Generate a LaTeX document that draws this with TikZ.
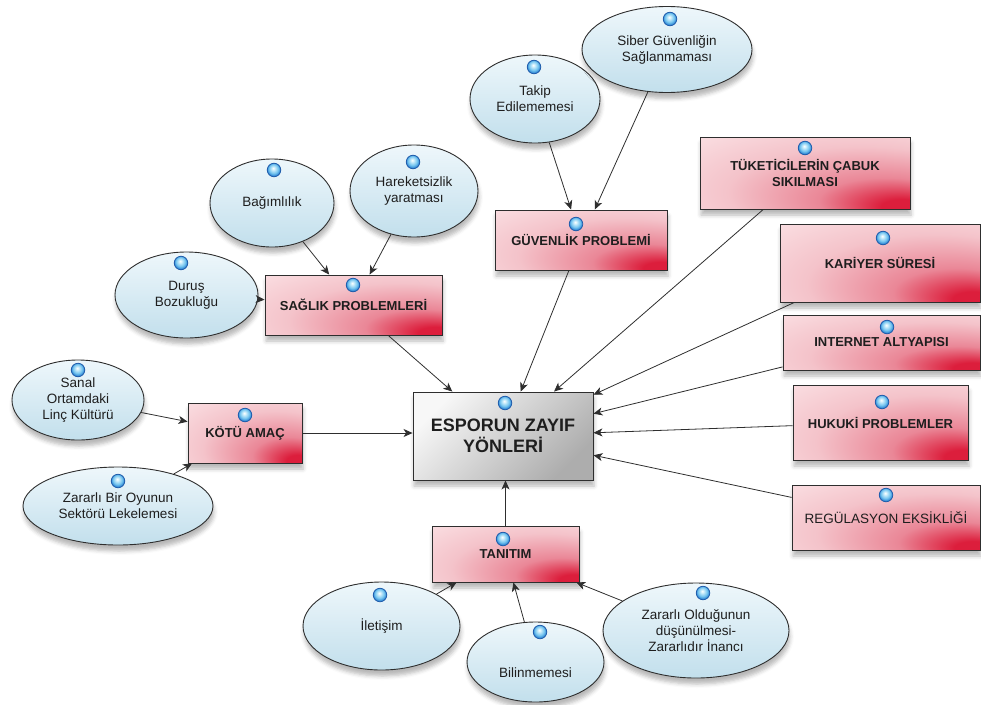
\documentclass[tikz,border=0pt]{standalone}
\usepackage{fontspec}
\setmainfont{Liberation Sans}
\usetikzlibrary{shapes.geometric,arrows.meta,shadows.blur}
\definecolor{rb0}{HTML}{FDEBED}
\definecolor{rb1}{HTML}{F4C3CA}
\definecolor{rb2}{HTML}{EA8797}
\definecolor{rb3}{HTML}{DC1E3C}
\definecolor{elltop}{HTML}{EEF7FB}
\definecolor{ellbot}{HTML}{C2DFEC}
\definecolor{gr0}{HTML}{F7F7F7}
\definecolor{gr1}{HTML}{ADADAD}
\definecolor{edge}{HTML}{2E2E2E}
\definecolor{txt}{HTML}{1E1E1E}
\definecolor{dl1}{HTML}{D4F1FC}
\definecolor{dl2}{HTML}{74C4EF}
\definecolor{dl3}{HTML}{2F86D4}
\definecolor{dline}{HTML}{1F5CAB}
\pgfdeclareradialshading{redcorner}{\pgfpoint{25bp}{-25bp}}{color(0bp)=(rb3); color(5bp)=(rb3); color(16bp)=(rb2); color(32bp)=(rb1); color(55bp)=(rb0); color(70bp)=(rb0)}
\pgfdeclareverticalshading{greybox}{100bp}{color(0bp)=(gr1); color(25bp)=(gr1); color(75bp)=(gr0); color(100bp)=(gr0)}
\pgfdeclareradialshading{dotball}{\pgfpoint{-3bp}{7bp}}{color(0bp)=(white); color(5bp)=(dl1); color(17bp)=(dl2); color(25bp)=(dl3); color(50bp)=(dl3)}
\begin{document}
\begin{tikzpicture}[x=1pt,y=-1pt,
  shad/.style={blur shadow={shadow xshift=1pt,shadow yshift=-6pt,shadow blur radius=4pt,shadow opacity=28}},
  ell/.style={ellipse, draw=edge, line width=0.9pt, top color=elltop, bottom color=ellbot,
    inner sep=0pt, align=center, text=txt, font=\fontsize{13.5}{16}\selectfont, shad},
  rbox/.style={rectangle, draw=edge, line width=0.9pt, shading=redcorner,
    inner sep=0pt, align=center, text=txt, font=\bfseries\fontsize{13}{15.5}\selectfont, shad},
  cbox/.style={rectangle, draw=edge, line width=0.9pt, shading=greybox, shading angle=45,
    inner sep=0pt, align=center, text=txt, font=\bfseries\fontsize{18}{21}\selectfont, shad},
  bdot/.style={circle, draw=dline, line width=0.8pt, shading=dotball, minimum size=13.5pt, inner sep=0pt},
  arr/.style={draw=edge, line width=0.8pt, -{Stealth[length=9pt,width=8pt,inset=2.5pt]}}
]
\useasboundingbox (0,0) rectangle (981,704);

% central node
\node[cbox, minimum width=180pt, minimum height=88pt] (cen) at (503,436) {ESPORUN ZAYIF\\YÖNLERİ};

% red boxes
\node[rbox, minimum width=114pt, minimum height=60pt] (kot) at (245,433) {KÖTÜ AMAÇ};
\node[rbox, minimum width=177pt, minimum height=60pt] (sag) at (353.5,305) {SAĞLIK PROBLEMLERİ};
\node[rbox, minimum width=172pt, minimum height=60pt] (guv) at (581,240) {GÜVENLİK PROBLEMİ};
\node[rbox, minimum width=210pt, minimum height=72pt] (tuk) at (805,173) {TÜKETİCİLERİN ÇABUK\\SIKILMASI};
\node[rbox, minimum width=200pt, minimum height=78pt] (kar) at (880,263) {KARİYER SÜRESİ};
\node[rbox, minimum width=197pt, minimum height=55pt] (int) at (881.5,342.5) {INTERNET ALTYAPISI};
\node[rbox, minimum width=175pt, minimum height=75pt] (huk) at (880.5,422.5) {HUKUKİ PROBLEMLER};
\node[rbox, minimum width=188pt, minimum height=65pt, font=\fontsize{13.5}{16}\selectfont] (reg) at (886,517.5) {REGÜLASYON EKSİKLİĞİ};
\node[rbox, minimum width=147pt, minimum height=56pt] (tan) at (505.5,554) {TANITIM};

% ellipses
\node[ell, minimum width=132pt, minimum height=80pt] (san) at (78,400) {Sanal\\Ortamdaki\\Linç Kültürü};
\node[ell, minimum width=190pt, minimum height=78pt] (zarb) at (118,506) {Zararlı Bir Oyunun\\Sektörü Lekelemesi};
\node[ell, minimum width=143pt, minimum height=86pt] (dur) at (186.5,295) {Duruş\\Bozukluğu};
\node[ell, minimum width=124pt, minimum height=88pt] (bag) at (272,203) {Bağımlılık};
\node[ell, minimum width=128pt, minimum height=92pt] (har) at (414,191) {Hareketsizlik\\yaratması};
\node[ell, minimum width=130pt, minimum height=88pt] (tak) at (535,99) {Takip\\Edilememesi};
\node[ell, minimum width=170pt, minimum height=86pt] (sib) at (667,49.5) {Siber Güvenliğin\\Sağlanmaması};
\node[ell, minimum width=157pt, minimum height=88pt] (ile) at (381.5,626) {İletişim};
\node[ell, minimum width=137pt, minimum height=80pt] (bil) at (535.5,662) {};
\node[text=txt, font=\fontsize{13.5}{16}\selectfont] (bilt) at (535.5,673) {Bilinmemesi};
\node[ell, minimum width=186pt, minimum height=95pt] (zaro) at (696,630.5) {Zararlı Olduğunun\\düşünülmesi-\\Zararlıdır İnancı};

% connectors
\draw[arr] (san) -- (kot);
\draw[arr] (zarb) -- (kot);
\draw[arr] (kot) -- (kot -| cen.west);
\draw[arr] (dur) -- (sag);
\draw[arr] (bag) -- (sag);
\draw[arr] (har) -- (sag);
\draw[arr] (sag) -- (cen);
\draw[arr] (tak) -- (guv);
\draw[arr] (sib) -- (guv);
\draw[arr] (guv) -- (cen);
\draw[arr] (tuk) -- (cen);
\draw[arr] (kar) -- (cen);
\draw[arr] (int) -- (cen);
\draw[arr] (huk) -- (cen);
\draw[arr] (reg) -- (cen);
\draw[arr] (tan) -- (tan.north |- cen.south);
\draw[arr] (ile) -- (tan);
\draw[arr] (bil) -- (tan);
\draw[arr] (zaro) -- (tan);

% blue dots
\node[bdot] (d1) at (505,403) {};
\node[bdot] (d2) at (245,415) {};
\node[bdot] (d3) at (353,285) {};
\node[bdot] (d4) at (576,224) {};
\node[bdot] (d5) at (805,148) {};
\node[bdot] (d6) at (883,238) {};
\node[bdot] (d7) at (887,327) {};
\node[bdot] (d8) at (882,402) {};
\node[bdot] (d9) at (886,495) {};
\node[bdot] (d10) at (503,539) {};
\node[bdot] (d11) at (78,370) {};
\node[bdot] (d12) at (118,481) {};
\node[bdot] (d13) at (181,263) {};
\node[bdot] (d14) at (274,170) {};
\node[bdot] (d15) at (413,162) {};
\node[bdot] (d16) at (534,67) {};
\node[bdot] (d17) at (670,19) {};
\node[bdot] (d18) at (380,595) {};
\node[bdot] (d19) at (540,632) {};
\node[bdot] (d20) at (703,593) {};
\end{tikzpicture}
\end{document}
